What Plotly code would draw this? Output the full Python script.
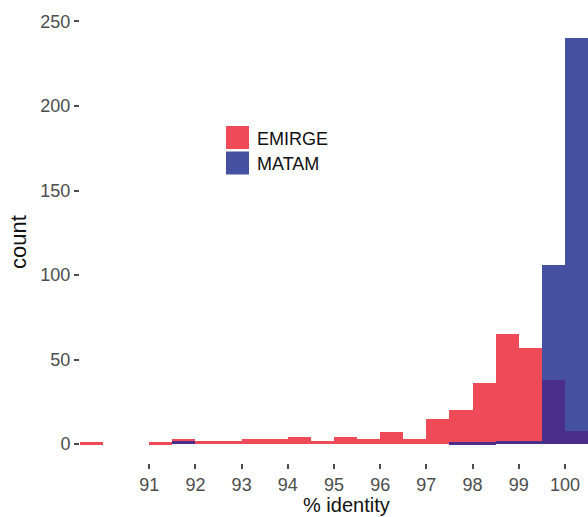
import plotly.graph_objects as go

# Histogram bins (left edges, width 0.5 % identity)
bin_left = [89.5, 90.0, 90.5, 91.0, 91.5, 92.0, 92.5, 93.0, 93.5, 94.0, 94.5,
            95.0, 95.5, 96.0, 96.5, 97.0, 97.5, 98.0, 98.5, 99.0, 99.5, 100.0]
emirge = [1, 0, 0, 1, 3, 2, 2, 3, 3, 4, 2,
          4, 3, 7, 3, 15, 20, 36, 65, 57, 38, 8]
matam = [0, 0, 0, 0, 2, 0, 0, 0, 0, 0, 0,
         0, 0, 0, 0, 0, 1, 1, 2, 2, 106, 240]
bin_width = 0.5
x_ticks = [91, 92, 93, 94, 95, 96, 97, 98, 99, 100]
y_ticks = [0, 50, 100, 150, 200, 250]

centers = [b + bin_width / 2 for b in bin_left]
overlap = [min(a, b) for a, b in zip(emirge, matam)]

RED = "#EE4A57"
BLUE = "#4650A0"
PURPLE = "#4B2D8C"
FONT = "Liberation Sans, Arial, sans-serif"

fig = go.Figure()
fig.add_bar(x=centers, y=matam, width=bin_width, marker=dict(color=BLUE, line=dict(width=0)),
            opacity=1, name="MATAM", showlegend=False)
fig.add_bar(x=centers, y=emirge, width=bin_width, marker=dict(color=RED, line=dict(width=0)),
            opacity=1, name="EMIRGE", showlegend=False)
fig.add_bar(x=centers, y=overlap, width=bin_width, marker=dict(color=PURPLE, line=dict(width=0)),
            opacity=1, name="overlap", showlegend=False, hoverinfo="skip")

W, H = 588, 517
L, R, T, B = 80, 0, 0, 54
pw, ph = W - L - R, H - T - B

def px_x(p):
    return (p - L) / pw

def px_y(p):
    return (H - B - p) / ph

# legend drawn as shapes + text
legend_items = [("EMIRGE", RED, 126, 149), ("MATAM", BLUE, 151.5, 174.5)]
shapes = []
annotations = []
for label, col, y0, y1 in legend_items:
    shapes.append(dict(type="rect", xref="paper", yref="paper",
                       x0=px_x(226), x1=px_x(249), y0=px_y(y1), y1=px_y(y0),
                       fillcolor=col, line=dict(width=0)))
    annotations.append(dict(text=label, xref="paper", yref="paper",
                            x=px_x(255), y=px_y((y0 + y1) / 2 + 1), xanchor="left", yanchor="middle",
                            showarrow=False, font=dict(family=FONT, size=18, color="#111111")))

annotations.append(dict(text="% identity", xref="paper", yref="paper",
                        x=px_x(346), y=px_y(505), xanchor="center", yanchor="middle",
                        showarrow=False, font=dict(family=FONT, size=20, color="#111111")))
annotations.append(dict(text="count", xref="paper", yref="paper",
                        x=px_x(19), y=px_y(242), xanchor="center", yanchor="middle",
                        textangle=-90, showarrow=False,
                        font=dict(family=FONT, size=22, color="#111111")))

fig.update_layout(
    width=W, height=H,
    margin=dict(l=L, r=R, t=T, b=B, pad=0, autoexpand=False),
    barmode="overlay",
    bargap=0,
    plot_bgcolor="white", paper_bgcolor="white",
    shapes=shapes, annotations=annotations,
    showlegend=False,
)
fig.update_xaxes(range=[89.5, 100.5], tickvals=x_ticks, ticktext=[str(v) for v in x_ticks],
                 ticks="outside", ticklen=5, tickwidth=1.5, tickcolor="#4D4D4D",
                 showgrid=False, zeroline=False, showline=False, automargin=False,
                 tickfont=dict(family=FONT, size=18, color="#4D4D4D"))
fig.update_yaxes(range=[-11.2, 262.7], tickvals=y_ticks, ticktext=[str(v) for v in y_ticks],
                 ticks="outside", ticklen=5, tickwidth=1.5, tickcolor="#4D4D4D",
                 showgrid=False, zeroline=False, showline=False, automargin=False,
                 tickfont=dict(family=FONT, size=18, color="#4D4D4D"))

fig.write_html("out.html", config={"displayModeBar": False},
               post_script="document.body.style.margin='0';")
